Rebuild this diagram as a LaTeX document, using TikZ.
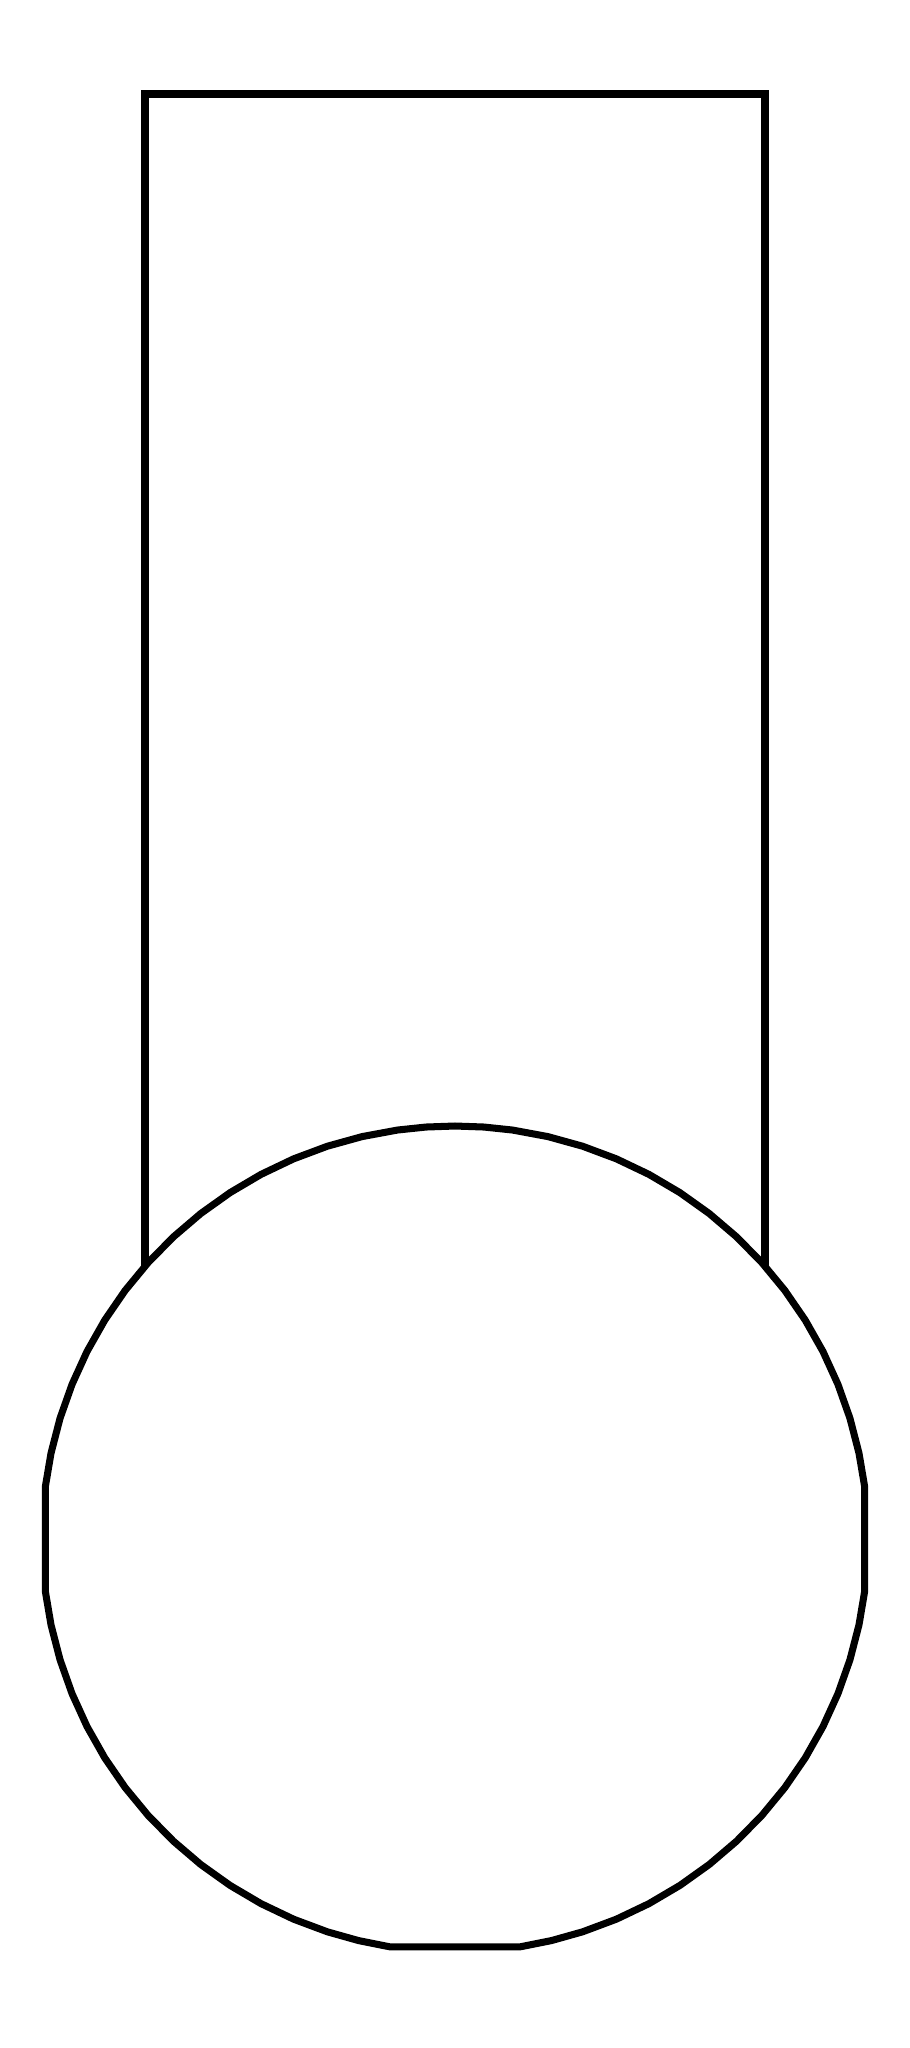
\documentclass[tikz,border=0pt]{standalone}
\begin{document}
\begin{tikzpicture}[x=0.01cm,y=-0.01cm,
  stem/.style={line width=2.2pt,line join=miter},
  bulb/.style={line width=2pt,fill=white,line join=miter}]
\useasboundingbox (0,0) rectangle (910,2048);
\coordinate (c) at (455,1539);
\draw[stem] (145,1275) -- (145,94) -- (765,94) -- (765,1275);
\draw[bulb] plot[samples at={7.3,12,17,22,27,32,37,42,47,52,57,62,67,72,77,82,86,90,94,98,103,108,113,118,123,128,133,138,143,148,153,158,163,168,172.7,187.3,192,197,202,207,212,217,222,227,232,237,242,247,252,256.5,261,279,283.5,288,293,298,303,308,313,318,323,328,333,338,343,348,352.7}]
  ({455+413*cos(\x)},{1539-413*sin(\x)}) -- cycle;
\end{tikzpicture}
\end{document}
